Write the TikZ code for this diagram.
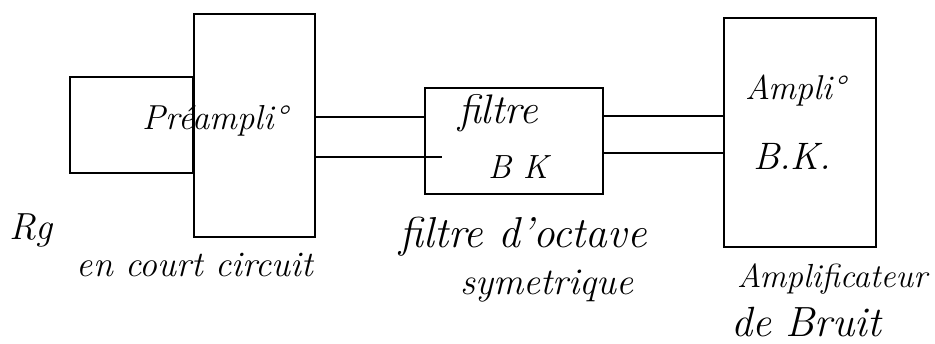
\documentclass[tikz,border=0pt]{standalone}
\usepackage{graphicx}
\newcommand\hwtext[2]{\resizebox{#1}{!}{\fontsize{20}{24}\selectfont\itshape #2}}
\begin{document}
\begin{tikzpicture}[x=1pt,y=-1pt,
  blk/.style={draw, line width=2pt, rectangle, inner sep=0pt},
  wire/.style={line width=2pt},
  lbl/.style={inner sep=0pt, align=center}]
\useasboundingbox[fill=white] (0,0) rectangle (935,343);
% boxes
\node[blk, minimum width=123pt, minimum height=96pt] (rg) at (131.5,125) {};
\node[blk, fill=white, minimum width=121pt, minimum height=223pt] (pre) at (254,125.5) {};
\node[blk, minimum width=178pt, minimum height=106pt] (filt) at (514,141) {};
\node[blk, minimum width=152pt, minimum height=229pt] (amp) at (800,132.5) {};
% wires
\coordinate (lowend) at ([xshift=18pt]filt.west);
\draw[wire] (pre.east |- 0,117) -- (filt.west |- 0,117);
\draw[wire] (pre.east |- 0,157) -- (lowend |- 0,157);
\draw[wire] (filt.east |- 0,116) -- (amp.west |- 0,116);
\draw[wire] (filt.east |- 0,153) -- (amp.west |- 0,153);
% labels
\node[lbl] (tpre) at (215,121) {\hwtext{144pt}{Préampli°}};
\node[lbl] (trg) at (31,230) {\hwtext{42pt}{Rg}};
\node[lbl] (tcc) at (195,265) {\hwtext{236pt}{en court circuit}};
\node[lbl] (tf1) at (498,113) {\hwtext{80pt}{filtre}};
\node[lbl] (tf2) at (518,167) {\hwtext{60pt}{B K}};
\node[lbl] (tf3) at (523,237) {\hwtext{247pt}{filtre d'octave}};
\node[lbl] (tf4) at (547,286) {\hwtext{173pt}{symetrique}};
\node[lbl] (ta1) at (795,91) {\hwtext{100pt}{Ampli°}};
\node[lbl] (ta2) at (792,156) {\hwtext{78pt}{B.K.}};
\node[lbl] (ta3) at (832,279) {\hwtext{190pt}{Amplificateur}};
\node[lbl] (ta4) at (806,322) {\hwtext{150pt}{de Bruit}};
\end{tikzpicture}
\end{document}
